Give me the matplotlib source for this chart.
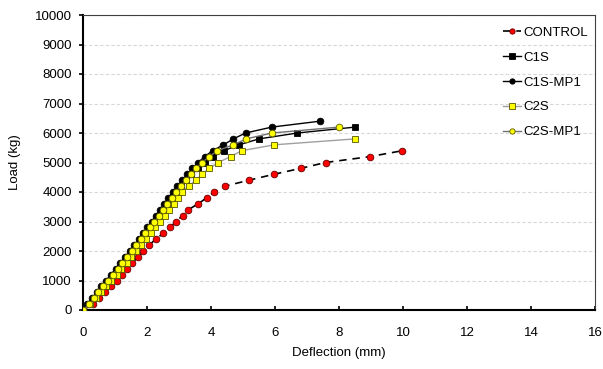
import matplotlib
matplotlib.use("Agg")
import matplotlib.pyplot as plt
import numpy as np

plt.rcParams['font.family'] = ['Liberation Sans', 'DejaVu Sans']

# CONTROL
ctrl_load = [0, 200, 400, 600, 800, 1000, 1200, 1400, 1600, 1800, 2000, 2200, 2400, 2600,
             2800, 3000, 3200, 3400, 3600, 3800, 4000, 4200, 4400, 4600, 4800, 5000, 5200, 5400]
ctrl_defl = [0, 0.30, 0.50, 0.70, 0.88, 1.05, 1.21, 1.36, 1.54, 1.73, 1.89, 2.07, 2.27, 2.51,
             2.72, 2.91, 3.11, 3.29, 3.60, 3.86, 4.10, 4.44, 5.19, 5.96, 6.80, 7.58, 8.97, 9.98]

# C1S (black squares)
c1s_load = [0, 200, 400, 600, 800, 1000, 1200, 1400, 1600, 1800, 2000, 2200, 2400, 2600, 2800,
            3000, 3200, 3400, 3600, 3800, 4000, 4200, 4400, 4600, 4800, 5000, 5200, 5400, 5600,
            5800, 6000, 6200]
c1s_defl = [0, 0.18, 0.34, 0.50, 0.65, 0.80, 0.95, 1.10, 1.24, 1.39, 1.54, 1.68, 1.82, 1.96, 2.10,
            2.24, 2.37, 2.50, 2.63, 2.77, 2.90, 3.05, 3.21, 3.38, 3.58, 3.80, 4.05, 4.40, 4.88,
            5.50, 6.70, 8.50]

# C1S-MP1 (black circles)
c1smp_load = [0, 200, 400, 600, 800, 1000, 1200, 1400, 1600, 1800, 2000, 2200, 2400, 2600, 2800,
              3000, 3200, 3400, 3600, 3800, 4000, 4200, 4400, 4600, 4800, 5000, 5200, 5400, 5600,
              5800, 6000, 6200, 6400]
c1smp_defl = [0, 0.12, 0.28, 0.43, 0.57, 0.72, 0.87, 1.02, 1.16, 1.31, 1.46, 1.60, 1.74, 1.88, 2.01,
              2.15, 2.28, 2.41, 2.54, 2.67, 2.80, 2.95, 3.10, 3.26, 3.42, 3.60, 3.80, 4.05, 4.39,
              4.70, 5.08, 5.90, 7.40]

# C2S (yellow squares)
c2s_load = [0, 200, 400, 600, 800, 1000, 1200, 1400, 1600, 1800, 2000, 2200, 2400, 2600, 2800,
            3000, 3200, 3400, 3600, 3800, 4000, 4200, 4400, 4600, 4800, 5000, 5200, 5400, 5600,
            5800]
c2s_defl = [0, 0.22, 0.40, 0.57, 0.73, 0.89, 1.05, 1.20, 1.36, 1.51, 1.66, 1.81, 1.96, 2.11, 2.26,
            2.41, 2.55, 2.69, 2.83, 2.97, 3.10, 3.30, 3.52, 3.72, 3.95, 4.23, 4.61, 4.96, 5.98,
            8.50]

# C2S-MP1 (yellow circles)
c2smp_load = [0, 200, 400, 600, 800, 1000, 1200, 1400, 1600, 1800, 2000, 2200, 2400, 2600, 2800,
              3000, 3200, 3400, 3600, 3800, 4000, 4200, 4400, 4600, 4800, 5000, 5200, 5400, 5600,
              5800, 6000, 6200]
c2smp_defl = [0, 0.20, 0.33, 0.48, 0.63, 0.78, 0.93, 1.08, 1.23, 1.38, 1.53, 1.67, 1.81, 1.95, 2.09,
              2.23, 2.37, 2.50, 2.64, 2.77, 2.90, 3.05, 3.21, 3.37, 3.54, 3.72, 3.95, 4.20, 4.70,
              5.10, 5.90, 8.00]

fig = plt.figure(figsize=(6.03, 3.69), dpi=100)
ax = fig.add_axes([83/603, 59/369, 512/603, 295/369])

ms = 4.8
ax.plot(c2s_defl, c2s_load, '-', color='#a0a0a0', lw=1.0, marker='s', ms=ms,
        mfc='#ffff00', mec='#555500', mew=0.6, label='C2S', zorder=3)
ax.plot(c2smp_defl, c2smp_load, '-', color='#707070', lw=1.0, marker='o', ms=ms,
        mfc='#ffff00', mec='#555500', mew=0.6, label='C2S-MP1', zorder=4)
ax.plot(c1s_defl, c1s_load, '-', color='black', lw=1.0, marker='s', ms=ms,
        mfc='black', mec='black', mew=0.6, label='C1S', zorder=2)
ax.plot(c1smp_defl, c1smp_load, '-', color='black', lw=1.0, marker='o', ms=ms,
        mfc='black', mec='black', mew=0.6, label='C1S-MP1', zorder=2)
ax.plot(ctrl_defl, ctrl_load, '--', color='black', lw=1.2, dashes=(4.5, 3.5), marker='o', ms=ms,
        mfc='#ff0000', mec='#660000', mew=0.6, label='CONTROL', zorder=1)

ax.set_xlim(0, 16)
ax.set_ylim(0, 10000)
ax.set_xticks(np.arange(0, 17, 2))
ax.set_yticks(np.arange(0, 10001, 1000))
ax.yaxis.grid(True, linestyle=(0, (3, 2)), color='#d8d8d8', lw=0.8)
ax.set_axisbelow(True)

for s in ['left', 'bottom']:
    ax.spines[s].set_linewidth(1.5)
for s in ['top', 'right']:
    ax.spines[s].set_linewidth(0.8)
    ax.spines[s].set_color('#404040')

ax.tick_params(axis='x', direction='in', length=3, width=1.2, labelsize=9.5, pad=12, colors='black')
ax.tick_params(axis='y', direction='out', length=3, width=1.2, labelsize=9.5, pad=5)

ax.set_xlabel('Deflection (mm)', fontsize=9.5, labelpad=6)
ax.set_ylabel('Load (kg)', fontsize=9.5, labelpad=10)

handles, labels = ax.get_legend_handles_labels()
order = ['CONTROL', 'C1S', 'C1S-MP1', 'C2S', 'C2S-MP1']
hmap = dict(zip(labels, handles))
leg = ax.legend([hmap[k] for k in order], order, loc='upper right', frameon=False,
                fontsize=9.5, handlelength=1.4, handletextpad=0.2, labelspacing=0.95,
                bbox_to_anchor=(1.01, 1.0), markerscale=0.8)

fig.savefig('out.png', dpi=100)
